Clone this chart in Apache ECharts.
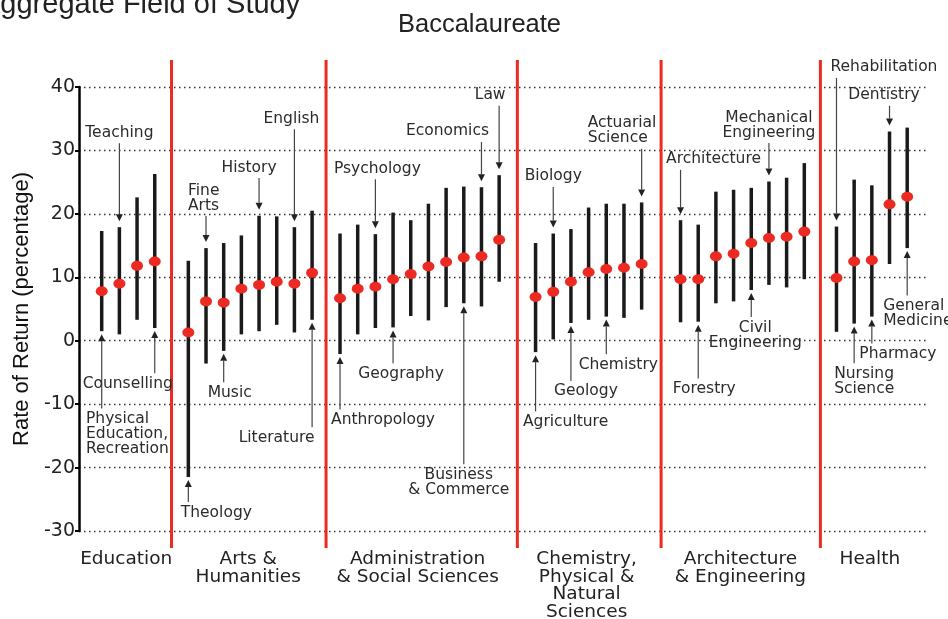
<!DOCTYPE html>
<html>
<head>
    <meta charset="utf-8"/>
    <title>Baccalaureate</title>
    <script src="https://cdn.jsdelivr.net/npm/echarts@6/dist/echarts.min.js"></script>
    <style>
        html, body { margin: 0; padding: 0; background: #fff; }
    </style>
</head>
<body>
<div id="main" style="width: 948px;height:619px;"></div>
<script type="text/javascript">
    // field groups (bottom labels) and how many fields sit in each
    var groupNames = ['Education', 'Arts &\nHumanities', 'Administration\n& Social Sciences',
        'Chemistry,\nPhysical &\nNatural\nSciences', 'Architecture\n& Engineering', 'Health'];
    var groupSizes = [4, 8, 10, 7, 8, 5];

    // one entry per field, left to right ('' = not labelled in the chart)
    var fieldNames = [
        'Physical\nEducation,\nRecreation', 'Teaching', '', 'Counselling',
        'Theology', 'Fine\nArts', 'Music', '', 'History', '', 'English', 'Literature',
        'Anthropology', '', 'Psychology', 'Geography', '', '', '', 'Business\n& Commerce', 'Economics', 'Law',
        'Agriculture', 'Biology', 'Geology', '', 'Chemistry', '', 'Actuarial\nScience',
        'Architecture', 'Forestry', '', '', 'Civil\nEngineering', 'Mechanical\nEngineering', '', '',
        'Rehabilitation', 'Nursing\nScience', 'Pharmacy', 'Dentistry', 'General\nMedicine'
    ];

    // rate of return (%) : point estimate and interval
    var means = [7.8, 9.0, 11.8, 12.5,
        1.3, 6.2, 6.0, 8.2, 8.8, 9.3, 9.0, 10.7,
        6.7, 8.2, 8.5, 9.7, 10.5, 11.7, 12.4, 13.1, 13.3, 15.9,
        6.9, 7.7, 9.3, 10.8, 11.3, 11.5, 12.1,
        9.7, 9.7, 13.3, 13.7, 15.4, 16.2, 16.4, 17.2,
        9.9, 12.5, 12.7, 21.5, 22.7];
    var lows = [1.5, 1.0, 3.3, 2.0,
        -21.5, -3.6, -1.6, 1.0, 1.5, 2.5, 1.3, 3.3,
        -2.1, 1.0, 2.0, 2.1, 3.9, 3.2, 5.3, 5.9, 5.4, 9.3,
        -1.8, 0.2, 2.8, 3.3, 3.8, 3.6, 4.9,
        2.9, 3.0, 5.9, 6.2, 8.0, 8.8, 8.4, 9.7,
        1.4, 2.7, 3.8, 12.1, 14.6];
    var highs = [17.3, 17.9, 22.6, 26.3,
        12.6, 14.6, 15.4, 16.6, 19.7, 19.6, 17.9, 20.5,
        16.9, 18.3, 16.8, 20.2, 19.0, 21.6, 24.1, 24.3, 24.2, 26.1,
        15.4, 16.9, 17.6, 21.0, 21.6, 21.6, 21.8,
        19.0, 18.3, 23.5, 23.8, 24.1, 25.1, 25.7, 28.0,
        18.0, 25.4, 24.5, 33.0, 33.6];

    var yTicks = [-30, -20, -10, 0, 10, 20, 30, 40];

    // extra blank space (in field slots) before each group after the first
    var groupGaps = [0.9, 0.58, 1.06, 1.2, 0.82];

    // annotation layout: [field index, arrow direction, label level (y value), label x shift px, text align]
    var notes = [
        [0, 'up', -14.7, -15.7, 'left'],
        [1, 'down', 32.8, 0, 'center'],
        [3, 'up', -6.8, -27, 'center'],
        [4, 'up', -27.1, 28, 'center'],
        [5, 'down', 22.5, -18, 'left'],
        [6, 'up', -8.2, 6, 'center'],
        [8, 'down', 27.3, -10, 'center'],
        [10, 'down', 35.0, -3, 'center'],
        [11, 'up', -15.3, -35.5, 'center'],
        [12, 'up', -12.5, 43, 'center'],
        [14, 'down', 27.1, 2, 'center'],
        [15, 'up', -5.2, 8, 'center'],
        [19, 'up', -22.3, -5, 'center'],
        [20, 'down', 33.0, -34, 'center'],
        [21, 'down', 38.7, -9, 'center'],
        [22, 'up', -12.8, 30, 'center'],
        [23, 'down', 25.9, 0, 'center'],
        [24, 'up', -8.0, 15, 'center'],
        [26, 'up', -3.8, 12, 'center'],
        [28, 'down', 33.1, -54, 'left'],
        [29, 'down', 28.6, 33, 'center'],
        [30, 'up', -7.6, 6, 'center'],
        [33, 'up', 0.9, 4, 'center'],
        [34, 'down', 34.0, 0, 'center'],
        [37, 'down', 43.1, -6, 'left'],
        [38, 'up', -6.4, -20, 'left'],
        [39, 'up', -2.1, 26, 'center'],
        [40, 'down', 38.7, -5.5, 'center'],
        [41, 'up', 4.3, -24, 'left']
    ];

    var RED = '#ec2a22';

    // x position of every field
    var xs = [];
    var k = 0, shift = 0;
    for (var g = 0; g < groupSizes.length; g++) {
        if (g > 0) shift += groupGaps[g - 1];
        for (var j = 0; j < groupSizes[g]; j++) {
            xs.push(k + shift);
            k++;
        }
    }

    var barData = [], dotData = [], noteData = [], sepData = [], groupData = [];
    for (var i = 0; i < xs.length; i++) {
        barData.push([xs[i], lows[i], highs[i]]);
        dotData.push([xs[i], means[i]]);
    }
    for (var n = 0; n < notes.length; n++) {
        noteData.push([xs[notes[n][0]], notes[n][2], n]);
    }
    var start = 0;
    for (var g2 = 0; g2 < groupSizes.length; g2++) {
        var first = xs[start], last = xs[start + groupSizes[g2] - 1];
        groupData.push([(first + last) / 2, -30, g2]);
        if (g2 < groupSizes.length - 1) {
            sepData.push([(last + xs[start + groupSizes[g2]]) / 2, 0]);
        }
        start += groupSizes[g2];
    }

    var myChart = echarts.init(document.getElementById('main'));

    var option = {
        animation: false,
        graphic: [
            {type: 'text', left: -19, top: -10,
                style: {text: 'Aggregate Field of Study', font: '29px "Liberation Sans", Arial', fill: '#222'}},
            {type: 'text', left: 398, top: 12,
                style: {text: 'Baccalaureate', font: '25.5px "Liberation Sans", Arial', fill: '#222'}}
        ],
        grid: {left: 79, right: 21, top: 87, bottom: 88},
        xAxis: {
            type: 'value', min: -1.284, max: 46.68, show: false, splitLine: {show: false}
        },
        yAxis: {
            type: 'value', min: yTicks[0], max: yTicks[yTicks.length - 1], interval: 10,
            name: 'Rate of Return (percentage)',
            nameLocation: 'middle', nameGap: 42,
            nameTextStyle: {fontSize: 22, fontFamily: '"Liberation Sans", Arial', color: '#111'},
            axisLine: {show: true, onZero: false, lineStyle: {color: '#000', width: 2.5}},
            axisTick: {show: true, length: 4, lineStyle: {color: '#000', width: 2}},
            axisLabel: {fontSize: 19, fontFamily: '"DejaVu Sans"', color: '#222', margin: 4},
            splitLine: {show: true, lineStyle: {color: '#333', width: 1.3, type: [1.5, 3.5]}}
        },
        series: [
            {
                // red group separators
                type: 'custom', data: sepData, clip: false, silent: true, z: 2,
                encode: {x: 0, y: 1},
                renderItem: function (params, api) {
                    var top = api.coord([api.value(0), 40]);
                    var bot = api.coord([api.value(0), -30]);
                    return {
                        type: 'line',
                        shape: {x1: top[0], y1: top[1] - 27, x2: bot[0], y2: bot[1] + 17},
                        style: {stroke: RED, lineWidth: 3}
                    };
                }
            },
            {
                // group names under the axis
                type: 'custom', data: groupData, clip: false, silent: true, z: 2,
                encode: {x: 0, y: 1},
                renderItem: function (params, api) {
                    var p = api.coord([api.value(0), api.value(1)]);
                    return {
                        type: 'text',
                        style: {
                            text: groupNames[api.value(2)], x: p[0] - 2, y: p[1] + 19,
                            align: 'center', verticalAlign: 'top',
                            fontSize: 18.5, fontFamily: '"DejaVu Sans"', lineHeight: 17.8, fill: '#222'
                        }
                    };
                }
            },
            {
                // interval bars
                type: 'custom', data: barData, clip: false, silent: true, z: 3,
                encode: {x: 0, y: [1, 2]},
                renderItem: function (params, api) {
                    var a = api.coord([api.value(0), api.value(1)]);
                    var b = api.coord([api.value(0), api.value(2)]);
                    return {
                        type: 'line',
                        shape: {x1: a[0], y1: a[1], x2: b[0], y2: b[1]},
                        style: {stroke: '#1a1a1a', lineWidth: 3.5}
                    };
                }
            },
            {
                // point estimates
                type: 'scatter', data: dotData, z: 5, silent: true,
                symbol: 'circle', symbolSize: [12, 10],
                itemStyle: {color: RED, opacity: 1}
            },
            {
                // field labels with arrows
                type: 'custom', data: noteData, clip: false, silent: true, z: 4,
                encode: {x: 0, y: 1},
                renderItem: function (params, api) {
                    var nt = notes[api.value(2)];
                    var idx = nt[0];
                    var xv = api.value(0);
                    var lab = api.coord([xv, nt[2]]);
                    var px = lab[0];
                    var text = fieldNames[idx];
                    var h = text.split('\n').length * 15;
                    var tail, tip, dir;
                    if (nt[1] === 'down') {
                        tail = lab[1] + h / 2 + 3;
                        tip = api.coord([xv, highs[idx]])[1] - 6;
                        dir = 1;
                    } else {
                        tail = lab[1] - h / 2 - 3;
                        tip = api.coord([xv, lows[idx]])[1] + 3;
                        dir = -1;
                    }
                    var base = tip - dir * 7;
                    return {
                        type: 'group',
                        children: [
                            {
                                type: 'text',
                                style: {
                                    text: text, x: px + nt[3], y: lab[1],
                                    align: nt[4], verticalAlign: 'middle',
                                    fontSize: 15.5, fontFamily: '"DejaVu Sans"', lineHeight: 15, fill: '#2b2b2b'
                                }
                            },
                            {
                                type: 'line',
                                shape: {x1: px, y1: tail, x2: px, y2: base},
                                style: {stroke: '#444', lineWidth: 1.2}
                            },
                            {
                                type: 'polygon',
                                shape: {points: [[px, tip], [px - 3.5, base], [px + 3.5, base]]},
                                style: {fill: '#222'}
                            }
                        ]
                    };
                }
            }
        ]
    };

    myChart.setOption(option);
</script>
</body>
</html>
